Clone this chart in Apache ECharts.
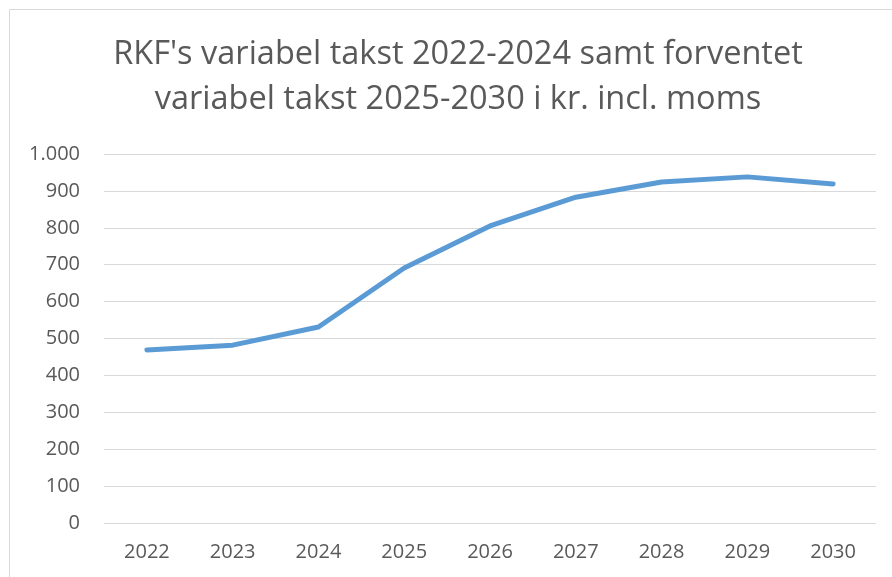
<!DOCTYPE html>
<html>
<head>
<meta charset="utf-8">
<script src="https://cdn.jsdelivr.net/npm/echarts@6/dist/echarts.min.js"></script>
<style>
  html, body { margin: 0; padding: 0; background: #fff; }
  #chart { width: 892px; height: 577px; }
</style>
</head>
<body>
<div id="chart"></div>
<script>
const years = ['2022', '2023', '2024', '2025', '2026', '2027', '2028', '2029', '2030'];
const takst = [469, 482, 531, 691, 805, 883, 924, 938, 919];

const titleLines = ["RKF's variabel takst 2022-2024 samt forventet", 'variabel takst 2025-2030 i kr. incl. moms'];

const gray = '#595959';
const font = 'Open Sans';

const chart = echarts.init(document.getElementById('chart'));

chart.setOption({
    animation: false,
    title: {
        text: titleLines.join('\n'),
        left: 453,
        top: 27,
        textAlign: 'center',
        textStyle: {
            color: gray,
            fontFamily: font,
            fontWeight: 'normal',
            fontSize: 32.5,
            lineHeight: 45
        }
    },
    graphic: [{
        type: 'rect',
        shape: {x: 9.5, y: 9.5, width: 900, height: 600},
        style: {fill: 'none', stroke: '#d9d9d9', lineWidth: 1},
        silent: true
    }],
    grid: {left: 104, right: 16, top: 154, bottom: 54},
    xAxis: {
        type: 'category',
        data: years,
        boundaryGap: true,
        axisLine: {show: false},
        axisTick: {show: false},
        axisLabel: {color: gray, fontFamily: font, fontSize: 20, margin: 19}
    },
    yAxis: {
        type: 'value',
        min: 0,
        max: 1000,
        interval: 100,
        axisLine: {show: false},
        axisTick: {show: false},
        splitLine: {lineStyle: {color: '#d9d9d9', width: 1}},
        axisLabel: {
            color: gray,
            fontFamily: font,
            fontSize: 20,
            margin: 24,
            formatter: v => v >= 1000 ? Math.floor(v / 1000) + '.' + String(v % 1000).padStart(3, '0') : String(v)
        }
    },
    series: [{
        type: 'line',
        data: takst,
        showSymbol: false,
        symbol: 'none',
        lineStyle: {color: '#5b9bd5', width: 5, cap: 'round', join: 'round'}
    }]
});
</script>
</body>
</html>
